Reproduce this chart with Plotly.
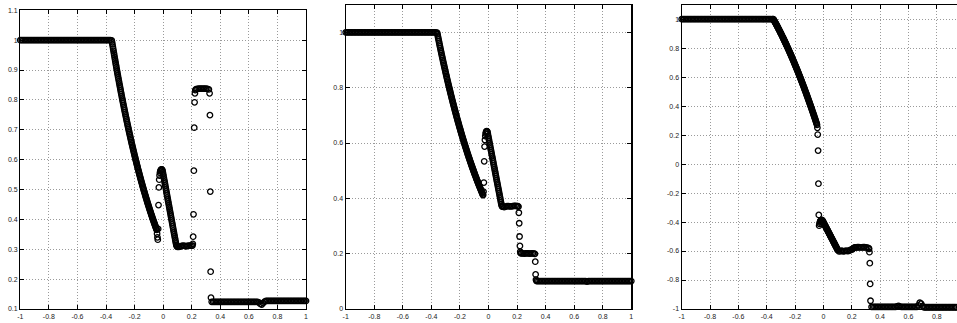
import plotly.graph_objects as go

# ---------------- shared x sample positions ----------------
X_LEFT = [-1.00, -0.99, -0.98, -0.97, -0.96, -0.95, -0.94, -0.93, -0.92, -0.91,
          -0.90, -0.89, -0.88, -0.87, -0.86, -0.85, -0.84, -0.83, -0.82, -0.81,
          -0.80, -0.79, -0.78, -0.77, -0.76, -0.75, -0.74, -0.73, -0.72, -0.71,
          -0.70, -0.69, -0.68, -0.67, -0.66, -0.65, -0.64, -0.63, -0.62, -0.61,
          -0.60, -0.59, -0.58, -0.57, -0.56, -0.55, -0.54, -0.53, -0.52, -0.51,
          -0.50, -0.49, -0.48, -0.47, -0.46, -0.45, -0.44, -0.43, -0.42, -0.41,
          -0.40, -0.39, -0.38, -0.37, -0.36]
X_RARE = [-0.3575, -0.3550, -0.3525, -0.3500, -0.3475, -0.3450, -0.3425, -0.3400,
          -0.3375, -0.3350, -0.3325, -0.3300, -0.3275, -0.3250, -0.3225, -0.3200,
          -0.3175, -0.3150, -0.3125, -0.3100, -0.3075, -0.3050, -0.3025, -0.3000,
          -0.2975, -0.2950, -0.2925, -0.2900, -0.2875, -0.2850, -0.2825, -0.2800,
          -0.2775, -0.2750, -0.2725, -0.2700, -0.2675, -0.2650, -0.2625, -0.2600,
          -0.2575, -0.2550, -0.2525, -0.2500, -0.2475, -0.2450, -0.2425, -0.2400,
          -0.2375, -0.2350, -0.2325, -0.2300, -0.2275, -0.2250, -0.2225, -0.2200,
          -0.2175, -0.2150, -0.2125, -0.2100, -0.2075, -0.2050, -0.2025, -0.2000,
          -0.1975, -0.1950, -0.1925, -0.1900, -0.1875, -0.1850, -0.1825, -0.1800,
          -0.1775, -0.1750, -0.1725, -0.1700, -0.1675, -0.1650, -0.1625, -0.1600,
          -0.1575, -0.1550, -0.1525, -0.1500, -0.1475, -0.1450, -0.1425, -0.1400,
          -0.1375, -0.1350, -0.1325, -0.1300, -0.1275, -0.1250, -0.1225, -0.1200,
          -0.1175, -0.1150, -0.1125, -0.1100, -0.1075, -0.1050, -0.1025, -0.1000,
          -0.0975, -0.0950, -0.0925, -0.0900, -0.0875, -0.0850, -0.0825, -0.0800,
          -0.0775, -0.0750, -0.0725, -0.0700, -0.0675, -0.0650, -0.0625, -0.0600,
          -0.0575, -0.0550, -0.0525, -0.0500, -0.0475, -0.0450]
X_J1 = [-0.0425, -0.040, -0.0375, -0.035, -0.0325, -0.030, -0.0275, -0.025,
        -0.0225, -0.020, -0.0175, -0.015, -0.0125, -0.010, -0.0075, -0.005]
X_DECL = [-0.0025, 0.0, 0.0025, 0.005, 0.0075, 0.01, 0.0125, 0.015, 0.0175, 0.02,
          0.0225, 0.025, 0.0275, 0.03, 0.0325, 0.035, 0.0375, 0.04, 0.0425, 0.045,
          0.0475, 0.05, 0.0525, 0.055, 0.0575, 0.06, 0.0625, 0.065, 0.0675, 0.07,
          0.0725, 0.075, 0.0775, 0.08, 0.0825, 0.085, 0.0875, 0.09, 0.0925, 0.095,
          0.0975, 0.1]
X_MID = [0.11, 0.12, 0.13, 0.14, 0.15, 0.16, 0.17, 0.18, 0.19, 0.20]
X_PLAT = [0.23, 0.24, 0.25, 0.26, 0.27, 0.28, 0.29, 0.30, 0.31, 0.32]
X_RIGHT = [0.34, 0.35, 0.36, 0.37, 0.38, 0.39, 0.40, 0.41, 0.42, 0.43,
           0.44, 0.45, 0.46, 0.47, 0.48, 0.49, 0.50, 0.51, 0.52, 0.53,
           0.54, 0.55, 0.56, 0.57, 0.58, 0.59, 0.60, 0.61, 0.62, 0.63,
           0.64, 0.65, 0.66, 0.67, 0.68, 0.69, 0.70, 0.71, 0.72, 0.73,
           0.74, 0.75, 0.76, 0.77, 0.78, 0.79, 0.80, 0.81, 0.82, 0.83,
           0.84, 0.85, 0.86, 0.87, 0.88, 0.89, 0.90, 0.91, 0.92, 0.93,
           0.94, 0.95, 0.96, 0.97, 0.98, 0.99, 1.00]

Y_LEFT = [1, 1, 1, 1, 1, 1, 1, 1, 1, 1,
          1, 1, 1, 1, 1, 1, 1, 1, 1, 1,
          1, 1, 1, 1, 1, 1, 1, 1, 1, 1,
          1, 1, 1, 1, 1, 1, 1, 1, 1, 1,
          1, 1, 1, 1, 1, 1, 1, 1, 1, 1,
          1, 1, 1, 1, 1, 1, 1, 1, 1, 1,
          1, 1, 1, 1, 0.999]

# ---------------- panel 1 ----------------
p1_rare = [0.9928, 0.9856, 0.9785, 0.9713, 0.9643, 0.9573, 0.9503, 0.9433,
           0.9365, 0.9296, 0.9228, 0.9160, 0.9093, 0.9025, 0.8959, 0.8893,
           0.8827, 0.8761, 0.8697, 0.8632, 0.8568, 0.8504, 0.8441, 0.8377,
           0.8315, 0.8252, 0.8191, 0.8129, 0.8068, 0.8006, 0.7946, 0.7885,
           0.7826, 0.7766, 0.7708, 0.7649, 0.7591, 0.7532, 0.7475, 0.7417,
           0.7361, 0.7304, 0.7248, 0.7192, 0.7137, 0.7081, 0.7026, 0.6971,
           0.6918, 0.6864, 0.6811, 0.6757, 0.6705, 0.6652, 0.6600, 0.6548,
           0.6497, 0.6445, 0.6395, 0.6344, 0.6294, 0.6244, 0.6195, 0.6145,
           0.6096, 0.6047, 0.5999, 0.5951, 0.5904, 0.5856, 0.5809, 0.5762,
           0.5716, 0.5669, 0.5624, 0.5578, 0.5533, 0.5487, 0.5443, 0.5398,
           0.5354, 0.5310, 0.5267, 0.5224, 0.5181, 0.5138, 0.5096, 0.5054,
           0.5012, 0.4970, 0.4929, 0.4888, 0.4848, 0.4807, 0.4767, 0.4726,
           0.4687, 0.4647, 0.4608, 0.4569, 0.4531, 0.4492, 0.4454, 0.4416,
           0.4379, 0.4341, 0.4304, 0.4267, 0.4231, 0.4195, 0.4159, 0.4123,
           0.4088, 0.4052, 0.4017, 0.3982, 0.3948, 0.3913, 0.3879, 0.3845,
           0.3812, 0.3778, 0.3745, 0.3712, 0.3680, 0.3647]
p1_j1 = [0.352, 0.340, 0.332, 0.368, 0.448, 0.507, 0.533, 0.547,
         0.556, 0.561, 0.564, 0.566, 0.567, 0.567, 0.566, 0.564]
p1_decl = [0.5585, 0.552, 0.5455, 0.539, 0.5325, 0.526, 0.5195, 0.513, 0.5065, 0.500,
           0.4935, 0.487, 0.4805, 0.474, 0.4675, 0.461, 0.4545, 0.448, 0.4415, 0.435,
           0.4285, 0.422, 0.4155, 0.409, 0.4025, 0.396, 0.3895, 0.383, 0.3765, 0.370,
           0.3635, 0.357, 0.3505, 0.344, 0.3375, 0.331, 0.325, 0.319, 0.314, 0.311,
           0.309, 0.308]
p1_mid = [0.308, 0.309, 0.311, 0.312, 0.311, 0.310, 0.311, 0.312, 0.312, 0.312]
p1_j2_x = [0.205, 0.2075, 0.21, 0.2125, 0.215, 0.2175, 0.22, 0.2225, 0.225]
p1_j2_y = [0.312, 0.318, 0.342, 0.417, 0.563, 0.707, 0.792, 0.822, 0.833]
p1_plat = [0.836, 0.837, 0.838, 0.838, 0.838, 0.838, 0.838, 0.838, 0.837, 0.835]
p1_j3_x = [0.325, 0.3275, 0.330, 0.3325, 0.335]
p1_j3_y = [0.822, 0.749, 0.493, 0.225, 0.138]
p1_right = [0.124, 0.124, 0.124, 0.124, 0.124, 0.124, 0.124, 0.124, 0.124, 0.124,
            0.124, 0.124, 0.124, 0.124, 0.124, 0.124, 0.124, 0.124, 0.124, 0.124,
            0.124, 0.124, 0.124, 0.124, 0.124, 0.124, 0.124, 0.124, 0.124, 0.124,
            0.124, 0.124, 0.124, 0.122, 0.117, 0.115, 0.120, 0.125, 0.127, 0.127,
            0.127, 0.127, 0.127, 0.127, 0.127, 0.127, 0.127, 0.127, 0.127, 0.127,
            0.127, 0.127, 0.127, 0.127, 0.127, 0.127, 0.127, 0.127, 0.127, 0.127,
            0.127, 0.127, 0.127, 0.127, 0.127, 0.127, 0.127]

# ---------------- panel 2 ----------------
p2_rare = [0.9936, 0.9871, 0.9808, 0.9744, 0.9681, 0.9618, 0.9556, 0.9493,
           0.9432, 0.9370, 0.9309, 0.9248, 0.9188, 0.9128, 0.9069, 0.9009,
           0.8950, 0.8891, 0.8833, 0.8775, 0.8718, 0.8660, 0.8603, 0.8546,
           0.8490, 0.8433, 0.8378, 0.8322, 0.8267, 0.8212, 0.8158, 0.8103,
           0.8050, 0.7996, 0.7943, 0.7889, 0.7837, 0.7784, 0.7732, 0.7680,
           0.7629, 0.7578, 0.7527, 0.7476, 0.7426, 0.7376, 0.7327, 0.7277,
           0.7228, 0.7179, 0.7131, 0.7082, 0.7034, 0.6986, 0.6939, 0.6891,
           0.6845, 0.6798, 0.6752, 0.6705, 0.6660, 0.6614, 0.6569, 0.6524,
           0.6479, 0.6434, 0.6390, 0.6346, 0.6303, 0.6259, 0.6216, 0.6173,
           0.6131, 0.6088, 0.6046, 0.6003, 0.5962, 0.5920, 0.5879, 0.5838,
           0.5798, 0.5757, 0.5717, 0.5677, 0.5638, 0.5598, 0.5559, 0.5519,
           0.5481, 0.5442, 0.5404, 0.5366, 0.5328, 0.5290, 0.5253, 0.5215,
           0.5179, 0.5142, 0.5106, 0.5069, 0.5033, 0.4997, 0.4962, 0.4926,
           0.4891, 0.4856, 0.4822, 0.4787, 0.4753, 0.4718, 0.4685, 0.4651,
           0.4618, 0.4584, 0.4551, 0.4518, 0.4486, 0.4453, 0.4421, 0.4388,
           0.4357, 0.4325, 0.4294, 0.4262, 0.4231, 0.4200]
p2_j1 = [0.417, 0.413, 0.412, 0.424, 0.457, 0.534, 0.587, 0.611,
         0.625, 0.634, 0.639, 0.642, 0.643, 0.642, 0.640, 0.634]
p2_decl = [0.6266, 0.6199, 0.6132, 0.6065, 0.5998, 0.5931, 0.5864, 0.5797, 0.5730, 0.5663,
           0.5596, 0.5529, 0.5462, 0.5395, 0.5328, 0.5261, 0.5194, 0.5127, 0.5060, 0.4993,
           0.4926, 0.4859, 0.4792, 0.4725, 0.4658, 0.4591, 0.4524, 0.4457, 0.4390, 0.4323,
           0.4256, 0.4189, 0.4122, 0.4055, 0.3988, 0.3921, 0.3854, 0.3790, 0.3740, 0.3715,
           0.3705, 0.3700]
p2_mid = [0.368, 0.370, 0.372, 0.372, 0.371, 0.371, 0.372, 0.373, 0.373, 0.372]
p2_j2_x = [0.205, 0.21, 0.2125, 0.215, 0.2175, 0.22, 0.2225, 0.225]
p2_j2_y = [0.372, 0.370, 0.348, 0.310, 0.262, 0.228, 0.207, 0.202]
p2_plat = [0.201, 0.201, 0.200, 0.201, 0.201, 0.201, 0.200, 0.201, 0.201, 0.200]
p2_j3_x = [0.325, 0.3275, 0.330, 0.3325, 0.335]
p2_j3_y = [0.199, 0.171, 0.125, 0.106, 0.102]
p2_right = [0.101, 0.101, 0.101, 0.101, 0.101, 0.101, 0.101, 0.101, 0.101, 0.101,
            0.101, 0.101, 0.101, 0.101, 0.101, 0.101, 0.101, 0.101, 0.101, 0.101,
            0.101, 0.101, 0.101, 0.101, 0.101, 0.101, 0.101, 0.101, 0.101, 0.101,
            0.101, 0.101, 0.101, 0.101, 0.101, 0.099, 0.101, 0.101, 0.101, 0.101,
            0.101, 0.101, 0.101, 0.101, 0.101, 0.101, 0.101, 0.101, 0.101, 0.101,
            0.101, 0.101, 0.101, 0.101, 0.101, 0.101, 0.101, 0.101, 0.101, 0.101,
            0.101, 0.101, 0.101, 0.101, 0.101, 0.101, 0.101]

# ---------------- panel 3 ----------------
p3_rare = [1.0, 1.0, 0.9991, 0.9947, 0.9903, 0.9859, 0.9814, 0.9769,
           0.9724, 0.9679, 0.9633, 0.9587, 0.9541, 0.9494, 0.9448, 0.9401,
           0.9354, 0.9306, 0.9258, 0.9211, 0.9162, 0.9114, 0.9065, 0.9016,
           0.8967, 0.8918, 0.8868, 0.8818, 0.8768, 0.8718, 0.8667, 0.8616,
           0.8565, 0.8513, 0.8462, 0.8410, 0.8358, 0.8305, 0.8252, 0.8200,
           0.8146, 0.8093, 0.8039, 0.7985, 0.7931, 0.7877, 0.7822, 0.7767,
           0.7712, 0.7657, 0.7601, 0.7545, 0.7489, 0.7432, 0.7376, 0.7319,
           0.7262, 0.7204, 0.7146, 0.7089, 0.7030, 0.6972, 0.6913, 0.6854,
           0.6795, 0.6736, 0.6676, 0.6616, 0.6556, 0.6496, 0.6435, 0.6374,
           0.6313, 0.6251, 0.6190, 0.6128, 0.6066, 0.6003, 0.5940, 0.5878,
           0.5814, 0.5751, 0.5687, 0.5623, 0.5559, 0.5495, 0.5430, 0.5365,
           0.5300, 0.5235, 0.5169, 0.5103, 0.5037, 0.4970, 0.4904, 0.4837,
           0.4770, 0.4702, 0.4634, 0.4567, 0.4498, 0.4430, 0.4361, 0.4292,
           0.4223, 0.4154, 0.4084, 0.4014, 0.3944, 0.3874, 0.3803, 0.3732,
           0.3661, 0.3589, 0.3518, 0.3446, 0.3374, 0.3301, 0.3228, 0.3156,
           0.3082, 0.3009, 0.2935, 0.2861, 0.2787, 0.2713]
p3_j1 = [0.250, 0.204, 0.093, -0.135, -0.351, -0.425, -0.413, -0.403,
         -0.396, -0.391, -0.388, -0.386, -0.385, -0.386, -0.388, -0.392]
p3_decl = [-0.397, -0.4017, -0.4064, -0.4112, -0.4159, -0.4206, -0.4253, -0.4300, -0.4348, -0.4395,
           -0.4442, -0.4489, -0.4536, -0.4584, -0.4631, -0.4678, -0.4725, -0.4772, -0.4820, -0.4867,
           -0.4914, -0.4961, -0.5008, -0.5056, -0.5103, -0.5150, -0.5197, -0.5244, -0.5292, -0.5339,
           -0.5386, -0.5433, -0.5480, -0.5528, -0.5575, -0.5622, -0.5669, -0.5716, -0.5764, -0.5811,
           -0.5858, -0.5930]
p3_mid = [-0.603, -0.601, -0.598, -0.602, -0.600, -0.597, -0.600, -0.598, -0.593, -0.588]
p3_j2_x = [0.205, 0.21, 0.215, 0.22, 0.225]
p3_j2_y = [-0.588, -0.582, -0.578, -0.576, -0.575]
p3_plat = [-0.575, -0.574, -0.574, -0.575, -0.575, -0.574, -0.574, -0.575, -0.576, -0.580]
p3_j3_x = [0.3225, 0.325, 0.3275, 0.330, 0.3325]
p3_j3_y = [-0.585, -0.608, -0.684, -0.827, -0.943]
p3_right = [-0.986, -0.986, -0.986, -0.986, -0.986, -0.986, -0.986, -0.986, -0.986, -0.986,
            -0.986, -0.986, -0.986, -0.986, -0.986, -0.986, -0.986, -0.986, -0.982, -0.979,
            -0.983, -0.986, -0.986, -0.986, -0.986, -0.986, -0.986, -0.986, -0.986, -0.986,
            -0.986, -0.986, -0.986, -0.975, -0.957, -0.963, -0.980, -0.988, -0.988, -0.988,
            -0.988, -0.988, -0.988, -0.988, -0.988, -0.988, -0.988, -0.988, -0.988, -0.988,
            -0.988, -0.988, -0.988, -0.988, -0.988, -0.988, -0.988, -0.988, -0.988, -0.988,
            -0.988, -0.988, -0.988, -0.988, -0.988, -0.988, -0.988]

# ---------------- ticks ----------------
X_TICKS = [-1, -0.8, -0.6, -0.4, -0.2, 0, 0.2, 0.4, 0.6, 0.8, 1]
X_TICKTEXT = ["-1", "-0.8", "-0.6", "-0.4", "-0.2", "0", "0.2", "0.4", "0.6", "0.8", "1"]
Y1_TICKS = [0.1, 0.2, 0.3, 0.4, 0.5, 0.6, 0.7, 0.8, 0.9, 1.0, 1.1]
Y1_TICKTEXT = ["0.1", "0.2", "0.3", "0.4", "0.5", "0.6", "0.7", "0.8", "0.9", "1", "1.1"]
Y2_TICKS = [0, 0.2, 0.4, 0.6, 0.8, 1.0]
Y2_TICKTEXT = ["0", "0.2", "0.4", "0.6", "0.8", "1"]
Y3_TICKS = [-1, -0.8, -0.6, -0.4, -0.2, 0, 0.2, 0.4, 0.6, 0.8, 1]
Y3_TICKTEXT = ["-1", "-0.8", "-0.6", "-0.4", "-0.2", "0", "0.2", "0.4", "0.6", "0.8", "1"]


def assemble(rare, j1, decl, mid, j2x, j2y, plat, j3x, j3y, right):
    pairs = [(X_LEFT, Y_LEFT), (X_RARE, rare), (X_J1, j1), (X_DECL, decl),
             (X_MID, mid), (j2x, j2y), (X_PLAT, plat), (j3x, j3y), (X_RIGHT, right)]
    xs, ys = [], []
    for a, b in pairs:
        if len(a) != len(b):
            raise ValueError("length mismatch %d vs %d" % (len(a), len(b)))
        xs += a
        ys += b
    return xs, ys


panels = [
    assemble(p1_rare, p1_j1, p1_decl, p1_mid, p1_j2_x, p1_j2_y, p1_plat, p1_j3_x, p1_j3_y, p1_right),
    assemble(p2_rare, p2_j1, p2_decl, p2_mid, p2_j2_x, p2_j2_y, p2_plat, p2_j3_x, p2_j3_y, p2_right),
    assemble(p3_rare, p3_j1, p3_decl, p3_mid, p3_j2_x, p3_j2_y, p3_plat, p3_j3_x, p3_j3_y, p3_right),
]

W, H = 957, 323
fig = go.Figure()
suffix = ["", "2", "3"]
for i, (xs, ys) in enumerate(panels):
    fig.add_trace(go.Scatter(
        x=xs, y=ys, mode="markers", cliponaxis=False, showlegend=False,
        xaxis="x" + suffix[i], yaxis="y" + suffix[i],
        marker=dict(symbol="circle-open", size=5.5, color="black",
                    line=dict(width=1.3, color="black")),
        hoverinfo="skip"))

font = dict(family="Liberation Sans, Arial, sans-serif", size=7, color="#222")
common = dict(ticks="inside", ticklen=4, tickwidth=1, tickcolor="black",
              showline=True, linecolor="black", linewidth=1.2,
              showgrid=True, gridcolor="#9a9a9a", gridwidth=1, griddash="1px,2px",
              zeroline=False, tickfont=font, automargin=False, fixedrange=True,
              tickmode="array")

bottom = (H - 309) / H
tops = [(H - 10.3) / H, (H - 4.7) / H, (H - 4.7) / H]
xdoms = [[20.3 / W, 306 / W], [345.7 / W, 631.3 / W], [681.7 / W, 1.0]]
xranges = [[-1, 1], [-1, 1], [-1, -1 + (W - 681.7) / 141.7]]
yranges = [[0.1, 1.1], [0, 1.1], [-1, 1.1]]
yticks = [(Y1_TICKS, Y1_TICKTEXT), (Y2_TICKS, Y2_TICKTEXT), (Y3_TICKS, Y3_TICKTEXT)]

layout = dict(width=W, height=H, margin=dict(l=0, r=0, t=0, b=0, pad=0),
              paper_bgcolor="white", plot_bgcolor="white", showlegend=False)
for i in range(3):
    xa = dict(common, domain=xdoms[i], range=xranges[i], tickvals=X_TICKS,
              ticktext=X_TICKTEXT, mirror="ticks",
              anchor="y" + suffix[i])
    ya = dict(common, domain=[bottom, tops[i]], range=yranges[i],
              tickvals=yticks[i][0], ticktext=yticks[i][1],
              mirror="ticks" if i < 2 else False,
              anchor="x" + suffix[i])
    layout["xaxis" + suffix[i]] = xa
    layout["yaxis" + suffix[i]] = ya

fig.update_layout(**layout)
fig.write_html("out.html", config={"displayModeBar": False, "staticPlot": True},
               post_script="document.body.style.margin='0px';document.body.style.padding='0px';")
